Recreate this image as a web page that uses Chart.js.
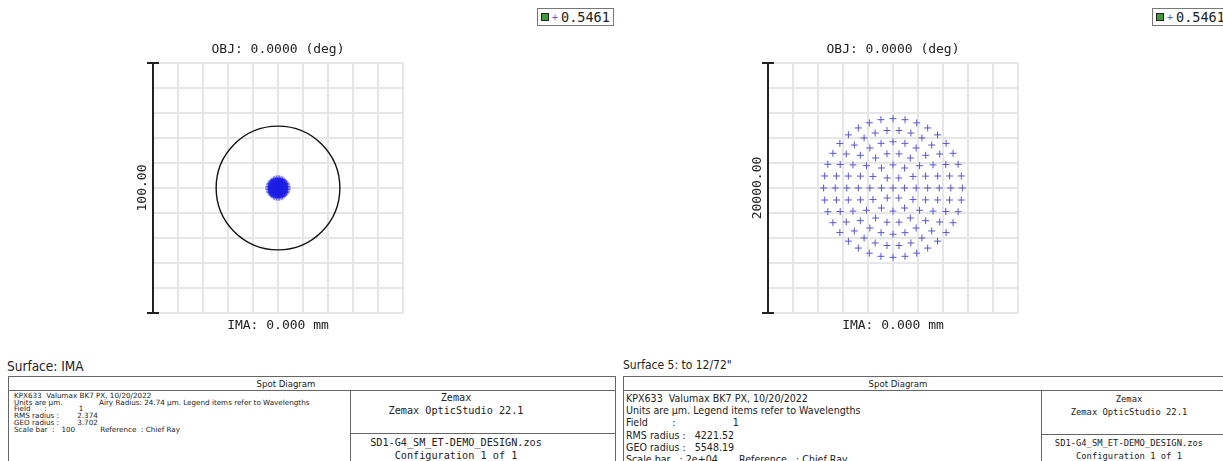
<!DOCTYPE html>
<html>
<head>
<meta charset="utf-8">
<title>Spot Diagram</title>
<script src="https://cdn.jsdelivr.net/npm/chart.js@4.4.1/dist/chart.umd.min.js"></script>
<style>
    body { margin: 0; width: 1223px; height: 461px; overflow: hidden; position: relative; background: #fff; }
    canvas { position: absolute; top: 0; }
    .wl { position: absolute; top: 8px; height: 16px; border: 1px solid #777; padding: 0 3px 0 3px;
          font: 13.5px "DejaVu Sans Mono", monospace; line-height: 16px; color: #222; white-space: nowrap; background: #fff; }
    .wl .ico { display: inline-block; width: 6px; height: 6px; border: 1px solid #222; background: #3c9a3c; vertical-align: 1px; }
    .wl .plus { color: #5a5ad6; font-size: 10px; margin: 0 3px 0 3px; vertical-align: 1px; }
    .surf { position: absolute; top: 358px; color: #222; white-space: nowrap; font-family: "DejaVu Sans Condensed", "DejaVu Sans", sans-serif; }
    .box { position: absolute; top: 376px; height: 100px; border: 1px solid #666; box-sizing: border-box; color: #222;
           font-family: "DejaVu Sans Condensed", "DejaVu Sans", sans-serif; }
    .box div { position: absolute; white-space: pre; }
    .head { top: 0; left: 0; height: 14px; line-height: 14px; text-align: center; font-size: 9.5px; }
    .hline { left: 0; right: 0; top: 13px; border-top: 1px solid #666; }
    .vline { top: 13px; bottom: 0; border-left: 1px solid #666; }
    .cline { right: 0; border-top: 1px solid #666; }
    .mono { font-family: "DejaVu Sans Mono", monospace; text-align: center; }
</style>
</head>
<body>

<canvas id="spotLeft" width="611" height="345" style="left:0px"></canvas>
<canvas id="spotRight" width="611" height="345" style="left:615px"></canvas>

<div class="wl" style="left:537px"><span class="ico"></span><span class="plus">+</span><span class="wlText"></span></div>
<div class="wl" style="left:1152px"><span class="ico"></span><span class="plus">+</span><span class="wlText"></span></div>

<div class="surf" style="left:7px; font-size:13.5px">Surface: IMA</div>
<div class="box" id="boxLeft" style="left:8px; width:608px">
    <div class="head" style="width:554px">Spot Diagram</div>
    <div class="hline"></div>
    <div class="vline" style="left:341px"></div>
    <div class="cline" style="left:341px; top:56px"></div>
</div>

<div class="surf" style="left:623px; font-size:12px">Surface 5: to 12/72"</div>
<div class="box" id="boxRight" style="left:623px; width:620px">
    <div class="head" style="width:548px">Spot Diagram</div>
    <div class="hline"></div>
    <div class="vline" style="left:417px"></div>
    <div class="cline" style="left:417px; top:57px"></div>
</div>

<script>
// ray intercepts on the image surface, micrometres [x, y]
const leftRays = [
    [0, 0],
    [0.62, 0], [0.31, 0.53], [-0.31, 0.53], [-0.62, 0], [-0.31, -0.53], [0.31, -0.53],
    [1.23, 0], [1.07, 0.62], [0.62, 1.07], [0, 1.23], [-0.62, 1.07], [-1.07, 0.62],
    [-1.23, 0], [-1.07, -0.62], [-0.62, -1.07], [0, -1.23], [0.62, -1.07], [1.07, -0.62],
    [1.85, 0], [1.74, 0.63], [1.42, 1.19], [0.93, 1.60], [0.32, 1.82], [-0.32, 1.82],
    [-0.93, 1.60], [-1.42, 1.19], [-1.74, 0.63], [-1.85, 0], [-1.74, -0.63], [-1.42, -1.19],
    [-0.93, -1.60], [-0.32, -1.82], [0.32, -1.82], [0.93, -1.60], [1.42, -1.19], [1.74, -0.63],
    [2.47, 0], [2.38, 0.64], [2.14, 1.23], [1.75, 1.75], [1.23, 2.14], [0.64, 2.38],
    [0, 2.47], [-0.64, 2.38], [-1.23, 2.14], [-1.75, 1.75], [-2.14, 1.23], [-2.38, 0.64],
    [-2.47, 0], [-2.38, -0.64], [-2.14, -1.23], [-1.75, -1.75], [-1.23, -2.14], [-0.64, -2.38],
    [0, -2.47], [0.64, -2.38], [1.23, -2.14], [1.75, -1.75], [2.14, -1.23], [2.38, -0.64],
    [3.09, 0], [3.02, 0.64], [2.82, 1.25], [2.50, 1.81], [2.06, 2.29], [1.54, 2.67],
    [0.95, 2.93], [0.32, 3.07], [-0.32, 3.07], [-0.95, 2.93], [-1.54, 2.67], [-2.06, 2.29],
    [-2.50, 1.81], [-2.82, 1.25], [-3.02, 0.64], [-3.09, 0], [-3.02, -0.64], [-2.82, -1.25],
    [-2.50, -1.81], [-2.06, -2.29], [-1.54, -2.67], [-0.95, -2.93], [-0.32, -3.07], [0.32, -3.07],
    [0.95, -2.93], [1.54, -2.67], [2.06, -2.29], [2.50, -1.81], [2.82, -1.25], [3.02, -0.64],
    [3.70, 0], [3.65, 0.64], [3.48, 1.27], [3.21, 1.85], [2.84, 2.38], [2.38, 2.84],
    [1.85, 3.21], [1.27, 3.48], [0.64, 3.65], [0, 3.70], [-0.64, 3.65], [-1.27, 3.48],
    [-1.85, 3.21], [-2.38, 2.84], [-2.84, 2.38], [-3.21, 1.85], [-3.48, 1.27], [-3.65, 0.64],
    [-3.70, 0], [-3.65, -0.64], [-3.48, -1.27], [-3.21, -1.85], [-2.84, -2.38], [-2.38, -2.84],
    [-1.85, -3.21], [-1.27, -3.48], [-0.64, -3.65], [0, -3.70], [0.64, -3.65], [1.27, -3.48],
    [1.85, -3.21], [2.38, -2.84], [2.84, -2.38], [3.21, -1.85], [3.48, -1.27], [3.65, -0.64]
];

const rightRays = [
    [0, 0],
    [925, 0], [462, 801], [-462, 801], [-925, 0], [-462, -801], [462, -801],
    [1849, 0], [1601, 925], [925, 1601], [0, 1849], [-925, 1601], [-1601, 925],
    [-1849, 0], [-1601, -925], [-925, -1601], [0, -1849], [925, -1601], [1601, -925],
    [2774, 0], [2607, 949], [2125, 1783], [1387, 2402], [482, 2732], [-482, 2732],
    [-1387, 2402], [-2125, 1783], [-2607, 949], [-2774, 0], [-2607, -949], [-2125, -1783],
    [-1387, -2402], [-482, -2732], [482, -2732], [1387, -2402], [2125, -1783], [2607, -949],
    [3699, 0], [3573, 957], [3203, 1850], [2616, 2616], [1850, 3203], [957, 3573],
    [0, 3699], [-957, 3573], [-1850, 3203], [-2616, 2616], [-3203, 1850], [-3573, 957],
    [-3699, 0], [-3573, -957], [-3203, -1850], [-2616, -2616], [-1850, -3203], [-957, -3573],
    [0, -3699], [957, -3573], [1850, -3203], [2616, -2616], [3203, -1850], [3573, -957],
    [4624, 0], [4523, 961], [4224, 1881], [3741, 2718], [3094, 3436], [2312, 4004],
    [1429, 4398], [483, 4599], [-483, 4599], [-1429, 4398], [-2312, 4004], [-3094, 3436],
    [-3741, 2718], [-4224, 1881], [-4523, 961], [-4624, 0], [-4523, -961], [-4224, -1881],
    [-3741, -2718], [-3094, -3436], [-2312, -4004], [-1429, -4398], [-483, -4599], [483, -4599],
    [1429, -4398], [2312, -4004], [3094, -3436], [3741, -2718], [4224, -1881], [4523, -961],
    [5548, 0], [5464, 963], [5213, 1897], [4805, 2774], [4250, 3566], [3566, 4250],
    [2774, 4805], [1897, 5213], [963, 5464], [0, 5548], [-963, 5464], [-1897, 5213],
    [-2774, 4805], [-3566, 4250], [-4250, 3566], [-4805, 2774], [-5213, 1897], [-5464, 963],
    [-5548, 0], [-5464, -963], [-5213, -1897], [-4805, -2774], [-4250, -3566], [-3566, -4250],
    [-2774, -4805], [-1897, -5213], [-963, -5464], [0, -5548], [963, -5464], [1897, -5213],
    [2774, -4805], [3566, -4250], [4250, -3566], [4805, -2774], [5213, -1897], [5464, -963]
];

const scaleBars = [100, 20000];
const scaleBarLabels = ['100.00', '20000.00'];
const fieldLabels = ['OBJ: 0.0000 (deg)', 'OBJ: 0.0000 (deg)'];
const imageLabels = ['IMA: 0.000 mm', 'IMA: 0.000 mm'];
const airyRadius = 24.74;
const wavelength = '0.5461';

const leftInfo = [
    'KPX633  Valumax BK7 PX, 10/20/2022',
    'Units are \u00b5m.                Airy Radius: 24.74 \u00b5m. Legend items refer to Wavelengths',
    'Field      :              1',
    'RMS radius :        2.374',
    'GEO radius :        3.702',
    'Scale bar  :   100           Reference  : Chief Ray'
];
const rightInfo = [
    'KPX633  Valumax BK7 PX, 10/20/2022',
    'Units are \u00b5m. Legend items refer to Wavelengths',
    'Field        :                   1',
    'RMS radius :   4221.52',
    'GEO radius :   5548.19',
    'Scale bar   : 2e+04       Reference   : Chief Ray'
];
const programInfo = ['Zemax', 'Zemax OpticStudio 22.1', 'SD1-G4_SM_ET-DEMO_DESIGN.zos', 'Configuration 1 of 1'];

// frame around the plot: titles, scale bar and the Airy disk
const spotFrame = {
    id: 'spotFrame',
    beforeDatasetsDraw(chart, args, opts)
    {
        if (!opts.airy) return;
        const { ctx, scales: { x, y } } = chart;
        const r = x.getPixelForValue(opts.airy) - x.getPixelForValue(0);
        ctx.save();
        ctx.strokeStyle = '#111';
        ctx.lineWidth = 1.4;
        ctx.beginPath();
        ctx.arc(x.getPixelForValue(0), y.getPixelForValue(0), r, 0, Math.PI * 2);
        ctx.stroke();
        ctx.restore();
    },
    afterDraw(chart, args, opts)
    {
        const { ctx, chartArea: a, scales: { y } } = chart;
        const cx = (a.left + a.right) / 2;
        const top = y.getPixelForValue(opts.bar / 2);
        const bottom = y.getPixelForValue(-opts.bar / 2);

        ctx.save();
        ctx.fillStyle = '#222';
        ctx.font = '13px "DejaVu Sans Mono", monospace';
        ctx.textAlign = 'center';
        ctx.textBaseline = 'middle';
        ctx.fillText(opts.title, cx, a.top - 13);
        ctx.fillText(opts.footer, cx, a.bottom + 13);

        ctx.strokeStyle = '#222';
        ctx.lineWidth = 2;
        ctx.beginPath();
        ctx.moveTo(a.left, top);
        ctx.lineTo(a.left, bottom);
        ctx.moveTo(a.left - 6, top);
        ctx.lineTo(a.left + 6, top);
        ctx.moveTo(a.left - 6, bottom);
        ctx.lineTo(a.left + 6, bottom);
        ctx.stroke();

        ctx.translate(a.left - 10, (top + bottom) / 2);
        ctx.rotate(-Math.PI / 2);
        ctx.fillText(opts.barLabel, 0, 0);
        ctx.restore();
    }
};

function spotChart(canvasId, rays, color, index, airy)
{
    const half = scaleBars[index] / 2;
    const step = scaleBars[index] / 10;
    const grid = { color: '#e6e6e6', lineWidth: 2, drawTicks: false };

    return new Chart(document.getElementById(canvasId).getContext('2d'), {
        type: 'scatter',
        data: {
            datasets: [{
                label: wavelength,
                data: rays.map(p => ({ x: p[0], y: p[1] })),
                pointStyle: 'cross',
                pointRadius: 3.5,
                borderWidth: 1,
                borderColor: color,
                backgroundColor: color
            }]
        },
        options: {
            responsive: false,
            animation: false,
            devicePixelRatio: 1,
            layout: { padding: { left: 153, top: 63, right: 208, bottom: 32 } },
            scales: {
                x: {
                    type: 'linear', min: -half, max: half,
                    ticks: { display: false, stepSize: step },
                    grid: grid,
                    border: { display: false },
                    afterFit: s => { s.height = 0; }
                },
                y: {
                    type: 'linear', min: -half, max: half,
                    ticks: { display: false, stepSize: step },
                    grid: grid,
                    border: { display: false },
                    afterFit: s => { s.width = 0; }
                }
            },
            plugins: {
                legend: { display: false },
                tooltip: { enabled: false },
                spotFrame: {
                    title: fieldLabels[index],
                    footer: imageLabels[index],
                    bar: scaleBars[index],
                    barLabel: scaleBarLabels[index],
                    airy: airy
                }
            }
        },
        plugins: [spotFrame]
    });
}

spotChart('spotLeft', leftRays, 'rgba(28, 28, 230, 0.7)', 0, airyRadius);
spotChart('spotRight', rightRays, '#5858d2', 1, null);

document.querySelectorAll('.wlText').forEach(el => { el.textContent = wavelength; });

// text blocks under each plot
function fillBox(boxId, lines, font, lineTop, lineStep, textLeft, colFont, colLeft, colWidth, colTops)
{
    const box = document.getElementById(boxId);
    lines.forEach((line, i) =>
    {
        const d = document.createElement('div');
        d.textContent = line;
        d.style.font = font;
        d.style.left = textLeft + 'px';
        d.style.top = (lineTop + i * lineStep) + 'px';
        d.style.lineHeight = lineStep + 'px';
        box.appendChild(d);
    });
    programInfo.forEach((line, i) =>
    {
        const d = document.createElement('div');
        d.className = 'mono';
        d.textContent = line;
        d.style.fontSize = colFont + 'px';
        d.style.left = colLeft + 'px';
        d.style.width = colWidth + 'px';
        d.style.top = colTops[i] + 'px';
        d.style.lineHeight = '12px';
        box.appendChild(d);
    });
}

fillBox('boxLeft', leftInfo, '7.2px "DejaVu Sans", sans-serif', 16, 6.7, 5, 10.2, 341, 212, [15, 28, 60, 73]);
fillBox('boxRight', rightInfo, '10.6px "DejaVu Sans Condensed", sans-serif', 15, 12.2, 2, 8.8, 417, 176, [16, 29, 60, 73]);
</script>
</body>
</html>
